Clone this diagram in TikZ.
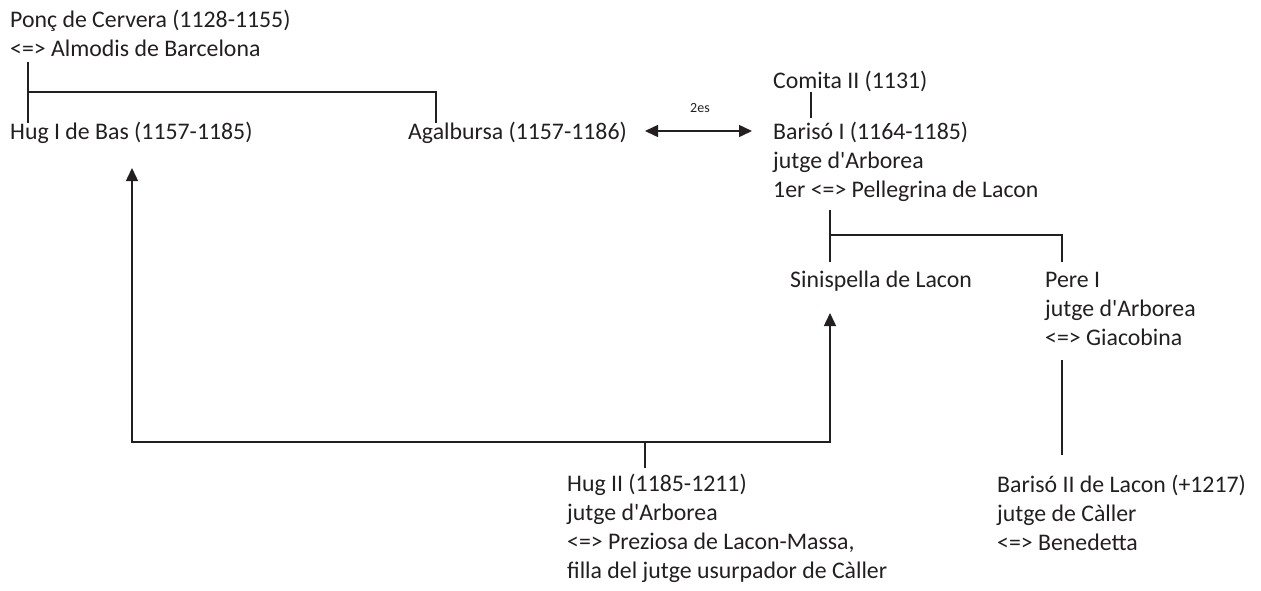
\documentclass[tikz,border=0pt]{standalone}
\usepackage{fontspec}
\setmainfont{Carlito}[Ligatures=TeXOff]
\usetikzlibrary{arrows.meta}
\definecolor{ink}{HTML}{231F20}
\begin{document}
\begin{tikzpicture}[x=1pt,y=-1pt,
  person/.style={inner sep=0pt,anchor=base west,align=left,text=ink,
    font=\fontsize{23.8}{29}\selectfont},
  small/.style={inner sep=0pt,anchor=base,text=ink,font=\fontsize{14}{16}\selectfont},
  link/.style={draw=ink,line width=1.5pt},
  tip/.style={-{Triangle[length=13pt,width=12pt]}}]
\useasboundingbox (0,0) rectangle (1261,590);
% people (anchor = baseline of last line)
\node[person] (ponc) at (10,56) {Ponç de Cervera (1128-1155)\\<=> Almodis de Barcelona};
\node[person] (hug1) at (10,139) {Hug I de Bas (1157-1185)};
\node[person] (agal) at (408,139) {Agalbursa (1157-1186)};
\node[person] (comita) at (773,88) {Comita II (1131)};
\node[person] (bariso1) at (773,197) {Barisó I (1164-1185)\\jutge d'Arborea\\1er <=> Pellegrina de Lacon};
\node[person] (sinis) at (790,287) {Sinispella de Lacon};
\node[person] (pere) at (1045,345) {Pere I\\jutge d'Arborea\\<=> Giacobina};
\node[person] (hug2) at (567,578) {Hug II (1185-1211)\\jutge d'Arborea\\<=> Preziosa de Lacon-Massa,\\filla del jutge usurpador de Càller};
\node[person] (bariso2) at (997,550) {Barisó II de Lacon (+1217)\\jutge de Càller\\<=> Benedetta};
\node[small] (dos) at (700,112) {2es};
% junction coordinates
\coordinate (pcA) at (28,62);
\coordinate (pcB) at (28,123);
\coordinate (pcM) at (28,92);
\coordinate (agT) at (436,123);
\coordinate (agM) at (436,92);
\coordinate (coA) at (811,92);
\coordinate (coB) at (811,118);
\coordinate (bA) at (830,210);
\coordinate (bM) at (830,235);
\coordinate (sT) at (830,262);
\coordinate (pM) at (1062,235);
\coordinate (pT) at (1062,262);
\coordinate (pA) at (1062,360);
\coordinate (pB) at (1062,455);
\coordinate (hA) at (645,468);
\coordinate (hM) at (645,442);
\coordinate (hL) at (132,442);
\coordinate (hR) at (830,442);
\coordinate (h1tip) at (132,168);
\coordinate (stip) at (830,313);
\coordinate (marL) at (645,131);
\coordinate (marR) at (752,131);
% connectors
\draw[link] (pcA) -- (pcB);
\draw[link] (pcM) -- (agM) -- (agT);
\draw[link] (coA) -- (coB);
\draw[link] (bA) -- (sT);
\draw[link] (bM) -- (pM) -- (pT);
\draw[link] (pA) -- (pB);
\draw[link] (hA) -- (hM);
\draw[link,tip] (hM) -- (hL) -- (h1tip);
\draw[link,tip] (hM) -- (hR) -- (stip);
\draw[link,{Triangle[length=13pt,width=12pt]}-{Triangle[length=13pt,width=12pt]}] (marL) -- (marR);
\end{tikzpicture}
\end{document}
